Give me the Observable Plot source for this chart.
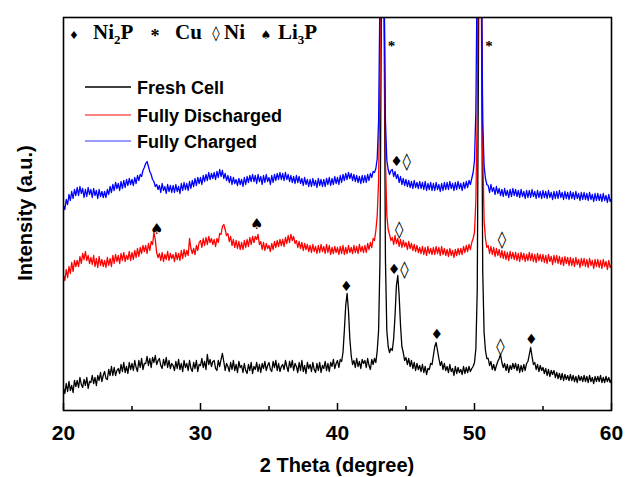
<!DOCTYPE html>
<html><head><meta charset="utf-8">
<script src="https://cdn.jsdelivr.net/npm/d3@7"></script>
<script src="https://cdn.jsdelivr.net/npm/@observablehq/plot@0.6"></script>
<style>body{margin:0;background:#fff}</style>
</head><body><div id="chart"></div>
<script>
// intensity values (a.u.), one row per degree 2θ (20 … 59), steps of 0.1°, last value at 60°
const freshCell = [
 22,17,27,19,29,20,25,18,30,24, 30,23,33,26,23,31,25,33,22,29, 28,35,27,33,25,35,30,38,29,35,
 39,32,31,41,35,44,35,43,35,40, 42,37,46,39,48,38,44,37,48,41, 47,40,50,43,39,50,43,52,41,47,
 47,54,45,52,43,53,48,55,46,50, 52,45,42,51,45,53,43,50,42,47, 45,40,49,42,51,41,47,39,50,43,
 47,40,50,42,39,48,42,50,39,46, 45,52,43,49,41,56,46,51,44,49, 50,42,40,50,44,51,57,49,40,47,
 44,39,48,41,50,40,46,38,49,43, 45,38,47,40,37,46,40,48,37,44, 41,48,39,46,38,47,42,49,40,45,
 48,41,39,49,43,50,40,47,39,44, 46,41,50,44,39,49,43,50,40,47, 44,38,48,40,50,39,45,37,48,42,
 46,39,48,41,38,47,40,48,38,45, 42,49,40,47,39,48,44,51,42,47, 50,43,51,49,58,80,105,117,100,72,
 55,46,50,43,52,44,49,42,51,47, 50,43,52,45,41,51,46,52,48,60, 80,150,400,700,400,150,80,64,58,62,
 60,72,95,125,135,115,85,64,58,50, 53,46,52,44,50,42,48,40,47,41, 45,39,46,38,44,36,42,41,47,46,
 55,64,68,60,52,45,49,41,47,40, 44,38,46,39,42,35,44,37,43,38, 41,36,44,37,43,38,44,39,42,44,
 48,62,120,380,700,420,140,78,60,52, 52,45,49,41,46,40,45,49,52,56, 48,43,47,40,46,38,45,41,47,42,
 47,40,46,38,45,39,46,40,47,49, 56,63,54,46,48,41,46,39,45,40, 43,37,42,35,41,34,40,36,40,33,
 38,32,37,31,37,30,36,31,35,30, 36,30,35,29,34,28,35,30,34,29, 35,29,34,28,35,29,33,27,34,29,
 34,29,35,28,33,28,34,29,33,28, 31
];
const fullyDischarged = [
 135,130,141,133,144,137,148,139,150,144, 150,144,154,147,157,151,159,150,155,147, 153,146,155,144,152,143,154,145,151,144,
 150,143,153,145,152,144,155,147,156,149, 155,147,157,150,158,149,155,151,159,150, 158,151,160,153,162,154,163,157,165,159,
 165,157,167,160,169,166,178,171,158,153, 157,150,158,149,156,151,159,150,157,152, 156,149,158,151,157,150,160,152,161,154,
 160,155,172,162,157,162,156,165,160,168, 170,163,172,165,173,166,174,168,172,166, 171,164,172,168,177,176,184,186,181,175,
 177,169,174,165,171,163,170,162,169,161, 168,161,170,163,171,164,173,166,174,168, 174,171,176,166,169,161,168,160,167,162,
 165,159,167,161,169,163,170,164,171,165, 171,164,173,167,175,168,176,170,174,167, 170,163,169,162,168,160,167,161,166,159,
 165,158,166,159,164,157,165,158,166,159, 164,157,166,158,165,156,163,157,164,158, 163,156,164,157,165,156,163,157,165,158,
 163,157,165,158,164,157,166,159,164,158, 165,158,167,161,168,163,172,170,180,195, 230,330,600,700,450,250,195,181,176,170,
 173,166,175,167,172,164,171,163,170,164, 168,161,169,162,167,160,166,159,165,158, 163,157,164,156,163,155,164,157,162,156,
 163,156,164,157,163,155,164,156,162,155, 161,154,162,155,160,153,161,155,162,156, 162,156,164,158,165,159,166,161,168,172,
 178,210,300,550,700,480,260,190,172,163, 165,157,164,156,163,154,162,155,161,153, 160,152,159,151,158,150,159,152,158,151,
 158,150,157,149,158,151,157,149,156,150, 158,150,157,149,156,148,157,150,156,149, 156,148,155,147,156,149,154,146,155,148,
 155,147,154,146,153,145,154,147,153,145, 153,145,152,144,153,146,151,143,152,145, 152,144,151,143,152,145,150,142,151,144,
 151,143,150,142,151,144,149,141,150,143, 146
];
const fullyCharged = [
 205,201,211,206,216,210,219,212,221,215, 223,215,224,217,222,213,221,214,223,216, 221,213,222,215,220,212,221,214,219,213,
 219,213,221,216,224,218,226,220,228,222, 227,220,229,222,230,223,231,225,232,226, 231,225,233,227,235,230,236,234,240,243,
 247,249,244,239,236,231,229,224,226,221, 225,218,227,220,224,217,226,219,225,218, 225,218,226,219,224,217,227,220,228,221,
 227,220,229,222,230,224,232,225,233,227, 233,226,235,229,236,230,238,231,237,232, 238,231,239,233,241,234,240,232,237,230,
 235,228,234,226,233,227,231,225,232,226, 231,224,233,226,234,228,235,229,236,229, 235,227,236,229,234,226,235,228,236,229,
 233,226,235,228,236,230,237,231,238,231, 237,230,238,231,236,229,235,228,234,227, 235,228,234,227,232,225,233,226,231,224,
 231,224,232,225,230,223,232,225,231,224, 231,224,232,226,233,225,232,226,234,227, 233,226,235,228,236,230,237,231,238,232,
 237,230,236,229,235,228,234,227,235,228, 235,228,236,230,237,233,239,238,242,252, 290,420,700,650,420,290,250,241,236,240,
 241,234,239,232,236,228,234,226,232,225, 231,224,230,223,229,222,230,223,228,222, 229,222,228,221,229,220,227,221,228,220,
 227,220,228,221,226,219,227,220,228,221, 228,221,229,222,227,220,228,221,229,222, 227,220,228,222,229,223,230,226,232,238,
 250,300,450,700,700,450,290,245,232,226, 225,218,226,219,223,216,224,217,222,215, 221,214,222,215,220,213,221,214,222,215,
 221,214,220,213,221,214,219,212,220,213, 220,213,221,214,219,212,220,213,219,212, 220,213,219,212,220,213,218,211,219,212,
 219,212,220,213,218,211,219,212,218,211, 219,212,218,211,219,212,217,210,218,211, 218,211,217,210,218,211,216,209,217,210,
 217,210,216,209,217,210,215,208,216,209, 212
];
const seriesNames = ["Fresh Cell", "Fully Discharged", "Fully Charged"];
const seriesColors = ["#000000", "#ff0000", "#0000ff"];
const legendColors = ["#000000", "#ff5a5a", "#7878ff"];
const majorTicks = [20, 30, 40, 50, 60];
const minorTicks = [25, 35, 45, 55];

// phase markers: 2θ position, intensity, symbol
const markX =   [40.65, 44.12, 44.88, 47.25, 51.9, 54.15, 26.8, 34.1, 44.5, 52.0, 44.3, 45.05, 43.95, 51.05];
const markY =   [124,   141,   141,   76,    64,   71,    181,  186,  181,  171,  249,  249,   364,   364];
const markSym = ["♦",   "♦",   "◊",   "♦",   "◊",  "♦",   "♠",  "♠",  "◊",  "◊",  "♦",  "◊",   "*",   "*"];

const allSeries = [freshCell, fullyDischarged, fullyCharged];
const rows = allSeries.flatMap((vals, s) => vals.map((v, i) => ({theta: 20 + i / 10, intensity: v, name: seriesNames[s]})));
const marks = markX.map((x, i) => ({x, y: markY[i], sym: markSym[i]}));

const W = 626, H = 477, mL = 63, mR = 15, mT = 17, mB = 67;
const innerH = H - mT - mB;

const svg = Plot.plot({
  width: W, height: H,
  marginLeft: mL, marginRight: mR, marginTop: mT, marginBottom: mB,
  style: {fontFamily: "Liberation Sans, Arial, sans-serif", background: "#fff", overflow: "visible"},
  x: {domain: [20, 60], label: null},
  y: {domain: [0, 393], axis: null},
  color: {domain: seriesNames, range: seriesColors},
  marks: [
    Plot.line(rows, {x: "theta", y: "intensity", z: "name", stroke: "name", strokeWidth: 1.3, clip: true}),
    Plot.text(marks.filter(d => d.sym === "♦"), {x: "x", y: "y", text: "sym", fontSize: 14, fontFamily: "DejaVu Sans", fill: "black"}),
    Plot.text(marks.filter(d => d.sym === "◊"), {x: "x", y: "y", text: "sym", fontSize: 17, fontFamily: "DejaVu Sans", fill: "black"}),
    Plot.text(marks.filter(d => d.sym === "♠"), {x: "x", y: "y", text: "sym", fontSize: 15, fontFamily: "DejaVu Sans", fill: "black"}),
    Plot.text(marks.filter(d => d.sym === "*"), {x: "x", y: "y", text: "sym", fontSize: 15, fontWeight: "bold", fontFamily: "Liberation Serif", fill: "black"}),
    Plot.tickX(majorTicks, {x: d => d, insetTop: innerH - 7, stroke: "black", strokeWidth: 1.5}),
    Plot.tickX(minorTicks, {x: d => d, insetTop: innerH - 4, stroke: "black", strokeWidth: 1.5}),
    Plot.axisX({ticks: majorTicks, tickSize: 0, tickPadding: 15, fontSize: 21, fontWeight: "bold", fill: "black", tickFormat: d => String(d)}),
    Plot.frame({stroke: "black", strokeWidth: 1.6})
  ]
});

const sel = d3.select(svg);
// series legend
const legY = [87, 115, 141];
seriesNames.forEach((n, i) => {
  sel.append("line").attr("x1", 85).attr("x2", 131).attr("y1", legY[i]).attr("y2", legY[i])
    .attr("stroke", legendColors[i]).attr("stroke-width", 1.3);
  sel.append("text").attr("x", 137).attr("y", legY[i] + 7).attr("text-anchor", "start").text(n)
    .attr("font-family", "Liberation Sans, Arial, sans-serif").attr("font-weight", "bold").attr("font-size", 18).attr("fill", "black");
});
// phase key
const key = sel.append("g").attr("font-family", "Liberation Serif, Times New Roman, serif").attr("font-weight", "bold").attr("fill", "black").attr("text-anchor", "start");
key.append("text").attr("x", 74).attr("y", 39).attr("text-anchor", "middle").attr("font-family", "DejaVu Sans").attr("font-size", 11).text("♦");
const t1 = key.append("text").attr("x", 93).attr("y", 39).attr("font-size", 21);
t1.append("tspan").text("Ni");
t1.append("tspan").attr("font-size", 13).attr("dy", 5).text("2");
t1.append("tspan").attr("dy", -5).text("P");
key.append("text").attr("x", 155).attr("y", 42).attr("text-anchor", "middle").attr("font-size", 18).text("*");
key.append("text").attr("x", 175).attr("y", 39).attr("font-size", 21).text("Cu");
key.append("text").attr("x", 216).attr("y", 38).attr("text-anchor", "middle").attr("font-family", "DejaVu Sans").attr("font-weight", "normal").attr("font-size", 15).text("◊");
key.append("text").attr("x", 224).attr("y", 39).attr("font-size", 21).text("Ni");
key.append("text").attr("x", 266).attr("y", 39).attr("text-anchor", "middle").attr("font-family", "DejaVu Sans").attr("font-size", 12).text("♠");
const t2 = key.append("text").attr("x", 278).attr("y", 39).attr("font-size", 21);
t2.append("tspan").text("Li");
t2.append("tspan").attr("font-size", 13).attr("dy", 5).text("3");
t2.append("tspan").attr("dy", -5).text("P");
// axis titles
sel.append("text").attr("x", 337).attr("y", 472).attr("text-anchor", "middle")
  .attr("font-family", "Liberation Sans, Arial, sans-serif").attr("font-weight", "bold").attr("font-size", 20).attr("fill", "black")
  .text("2 Theta (degree)");
sel.append("text").attr("transform", "translate(32,213) rotate(-90)").attr("text-anchor", "middle")
  .attr("font-family", "Liberation Sans, Arial, sans-serif").attr("font-weight", "bold").attr("font-size", 20).attr("fill", "black")
  .text("Intensity (a.u.)");

document.getElementById("chart").appendChild(svg);
</script>
</body></html>
